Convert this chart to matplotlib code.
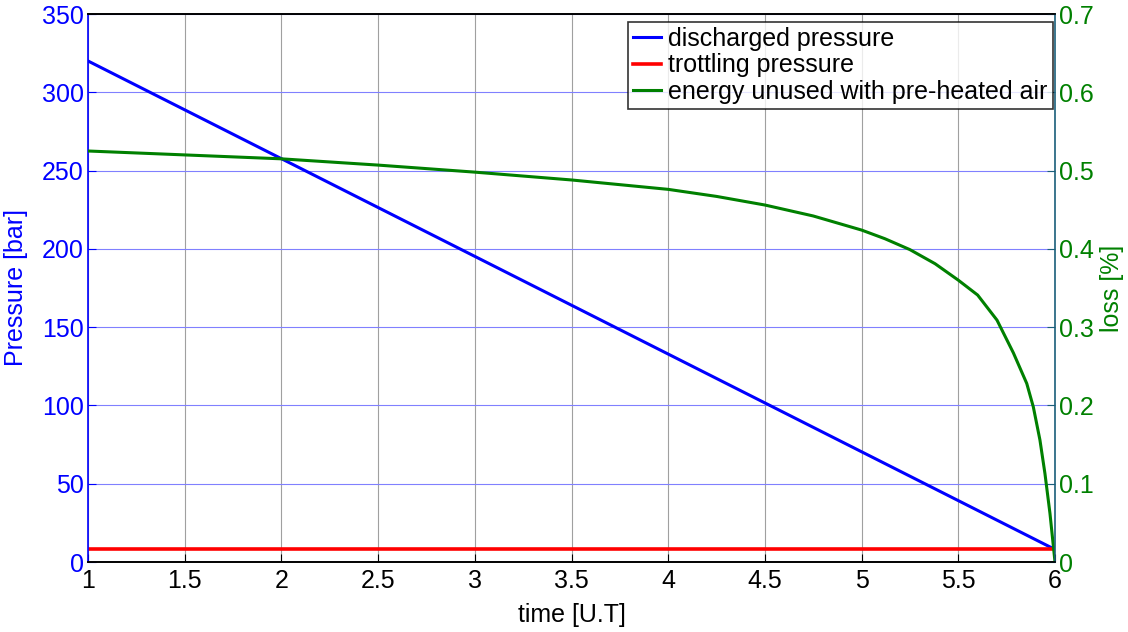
import numpy as np
import matplotlib.pyplot as plt

plt.rcParams['font.family'] = ['Liberation Sans', 'DejaVu Sans']

# time [U.T]
t = [1, 2, 3, 4, 5, 6]
discharged = [320, 257.6, 195.2, 132.8, 70.4, 8]
trottling = [8, 8, 8, 8, 8, 8]

# loss curve
t_loss = [1, 1.5, 2, 2.5, 3, 3.5, 4, 4.25, 4.5, 4.75, 5, 5.12, 5.25, 5.38, 5.5, 5.6, 5.7,
          5.785, 5.854, 5.888, 5.922, 5.948, 5.974, 6]
loss = [0.525, 0.52, 0.515, 0.507, 0.498, 0.488, 0.476, 0.467, 0.456, 0.442, 0.424, 0.413,
        0.399, 0.381, 0.360, 0.341, 0.309, 0.267, 0.228, 0.198, 0.156, 0.113, 0.062, 0.0]

fig = plt.figure(figsize=(11.28, 6.32), dpi=100)
ax = fig.add_axes([88 / 1128, 70 / 632, 967 / 1128, 548 / 632])
ax2 = ax.twinx()

fs = 18
l1, = ax.plot(t, discharged, color='#0000ff', lw=2.2, label='discharged pressure')
l2, = ax.plot(t, trottling, color='#ff0000', lw=2.6, label='trottling pressure')
l3, = ax2.plot(t_loss, loss, color='#008000', lw=2.2, label='energy unused with pre-heated air')

ax.set_xlim(1, 6)
ax.set_ylim(0, 350)
ax2.set_ylim(0, 0.7)
ax.set_xticks(np.arange(1, 6.01, 0.5))
ax.set_xticklabels(['1', '1.5', '2', '2.5', '3', '3.5', '4', '4.5', '5', '5.5', '6'])
ax.set_yticks(np.arange(0, 351, 50))
ax2.set_yticks(np.arange(0, 0.71, 0.1))
ax2.set_yticklabels(['0', '0.1', '0.2', '0.3', '0.4', '0.5', '0.6', '0.7'])

# grid: vertical gray, horizontal blue
ax.xaxis.grid(True, color='#a0a0a0', lw=0.8)
ax.yaxis.grid(True, color='#8080ff', lw=0.8)
ax.set_axisbelow(True)

ax.tick_params(axis='x', direction='in', length=6, labelsize=fs, colors='black', pad=5)
ax.tick_params(axis='y', direction='in', length=6, labelsize=fs, colors='#0000ff', pad=3)
ax2.tick_params(axis='y', direction='in', length=6, labelsize=fs, colors='#008000', pad=3)
ax2.tick_params(axis='y', color='#1a5f7a')

ax.spines['left'].set_color('#0000ff')
ax2.spines['left'].set_visible(False)
ax2.spines['right'].set_color('#1a5f7a')
ax.spines['right'].set_visible(False)
for sp in ['left', 'right', 'top', 'bottom']:
    ax.spines[sp].set_linewidth(1.2)
    ax2.spines[sp].set_linewidth(1.2)

ax.set_xlabel('time [U.T]', fontsize=fs, labelpad=7)
ax.set_ylabel('Pressure [bar]', fontsize=fs, color='#0000ff', labelpad=10)
ax2.set_ylabel('loss [%]', fontsize=fs, color='#008000', labelpad=4)

leg = ax2.legend([l1, l2, l3], [l1.get_label(), l2.get_label(), l3.get_label()],
                 loc='upper right', bbox_to_anchor=(1.0, 0.99), fontsize=fs, frameon=True,
                 fancybox=False, handlelength=1.1, handletextpad=0.3, borderpad=0.2,
                 labelspacing=0.1, borderaxespad=0.1)
leg.get_frame().set_edgecolor('black')
leg.get_frame().set_linewidth(1.2)

fig.savefig('out.png', dpi=100)
